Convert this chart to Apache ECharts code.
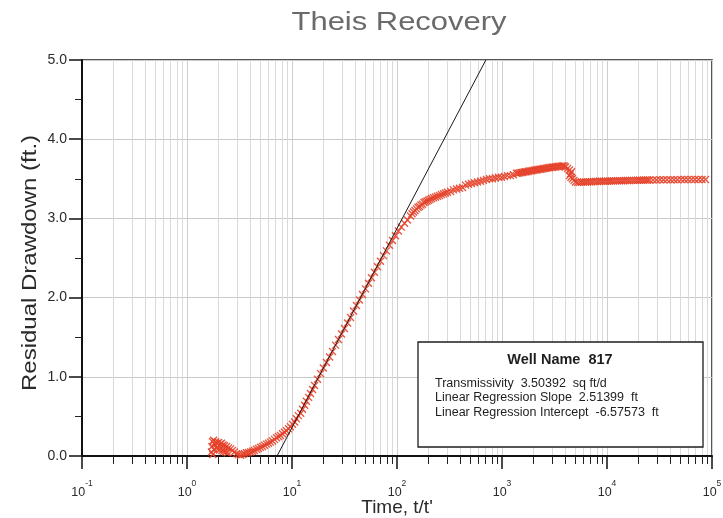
<!DOCTYPE html>
<html>
<head>
<meta charset="utf-8">
<title>Theis Recovery</title>
<script src="https://cdn.jsdelivr.net/npm/echarts@6/dist/echarts.min.js"></script>
<style>
  html, body { margin: 0; padding: 0; background: #ffffff; }
  #main { width: 723px; height: 518px; }
</style>
</head>
<body>
<div id="main"></div>
<script>
// Recovery record: time ratio t/t' and residual drawdown (ft)
const timeRatio = [
  // early recovery hump
  1.71, 1.73, 1.75, 1.79, 1.83, 1.87, 1.93, 2.00, 2.06, 2.13, 2.20, 2.27, 2.38, 2.48, 2.60, 2.71, 2.83, 2.96, 3.09, 3.23,
  1.76, 1.81, 1.90, 1.97, 2.04, 2.16, 2.24, 2.33, 2.43,
  // rising limb
  3.38, 3.53, 3.69, 3.85, 4.03, 4.21, 4.39, 4.59, 4.80, 5.01, 5.24, 5.47, 5.72, 5.97, 6.24, 6.52, 6.81, 7.12, 7.44, 7.77,
  8.12, 8.48, 8.86, 9.26, 9.67, 10.1, 10.6, 11.0, 11.5, 12.1, 12.6, 13.2, 13.7, 14.4, 15.0, 15.7, 16.4,
  // straight-line portion
  17.5, 18.7, 19.9, 21.3, 22.8, 24.3, 26.0, 27.7, 29.6, 31.6, 33.8, 36.1, 38.5, 41.1, 43.9, 46.9, 50.1, 53.5, 57.1, 61.0,
  65.2, 69.6, 74.3, 79.4, 84.8, 90.6, 96.8, 103, 110, 118, 126,
  // bend toward static level
  134.5, 139, 143.6, 148.4, 153.4, 158.5, 163.8, 169.3, 175.0, 180.8, 186.8, 193.1, 199.5, 206.2, 213.1, 222.6, 232.6, 243.0,
  254.0, 265.4, 277.3, 289.7, 302.7,
  324, 345, 369, 394, 421, 449, 480, 512, 547, 584, 624, 666, 711, 760, 811, 866, 925, 988, 1055, 1126, 1203, 1284,
  // late plateau
  1374, 1420, 1469, 1518, 1568, 1622, 1675, 1730, 1788, 1849, 1910, 1973, 2042, 2109, 2178, 2250, 2328, 2404, 2483, 2570,
  2655, 2742, 2831, 2931, 3027, 3126, 3236, 3342, 3451, 3565, 3690, 3811, 3936,
  // step down
  4024, 4207, 4395, 4592, 4490, 4395, 4540, 4690, 4852, 5012,
  // final level
  5236, 5470, 5715, 5972, 6240, 6519, 6811, 7117, 7435, 7769, 8118, 8482, 8862, 9259, 9674, 10107, 10561, 11034, 11529,
  12045, 12585, 13149, 13738, 14354, 14997, 15669, 16371, 17105, 17871, 18672, 19509, 20383, 21297, 22251, 23248, 24290, 25379,
  27435, 29590, 31988, 34505, 37218, 40273, 43440, 46856, 50695, 54681, 58982, 63816, 68830, 74269, 80300, 86696
];

const residualDrawdown = [
  0.05, 0.12, 0.18, 0.20, 0.15, 0.18, 0.16, 0.17, 0.15, 0.16, 0.14, 0.13, 0.12, 0.10, 0.09, 0.07, 0.05, 0.03, 0.02, 0.01,
  0.02, 0.08, 0.10, 0.09, 0.08, 0.07, 0.06, 0.05, 0.04,
  0.02, 0.03, 0.04, 0.045, 0.05, 0.06, 0.07, 0.085, 0.095, 0.11, 0.12, 0.135, 0.15, 0.16, 0.175, 0.19, 0.21, 0.23, 0.245, 0.26,
  0.28, 0.30, 0.32, 0.345, 0.37, 0.40, 0.43, 0.47, 0.51, 0.54, 0.59, 0.64, 0.69, 0.74, 0.79, 0.84, 0.89,
  0.97, 1.04, 1.11, 1.18, 1.25, 1.32, 1.40, 1.47, 1.54, 1.61, 1.68, 1.75, 1.83, 1.90, 1.97, 2.04, 2.11, 2.18, 2.25, 2.32,
  2.39, 2.46, 2.53, 2.59, 2.66, 2.72, 2.78, 2.84, 2.89, 2.94, 2.98,
  3.03, 3.06, 3.08, 3.10, 3.12, 3.14, 3.15, 3.17, 3.18, 3.20, 3.21, 3.22, 3.23, 3.24, 3.25, 3.26, 3.27, 3.28,
  3.29, 3.30, 3.31, 3.32, 3.33,
  3.34, 3.36, 3.37, 3.38, 3.39, 3.42, 3.43, 3.44, 3.45, 3.46, 3.47, 3.48, 3.49, 3.50, 3.50, 3.51, 3.52, 3.52, 3.53, 3.54, 3.54, 3.55,
  3.57, 3.57, 3.575, 3.58, 3.58, 3.585, 3.59, 3.59, 3.595, 3.60, 3.60, 3.605, 3.61, 3.61, 3.615, 3.62, 3.62, 3.625, 3.63, 3.63,
  3.635, 3.64, 3.64, 3.645, 3.645, 3.65, 3.65, 3.655, 3.655, 3.66, 3.66, 3.665, 3.66,
  3.65, 3.63, 3.61, 3.59, 3.565, 3.54, 3.52, 3.50, 3.48, 3.46,
  3.455, 3.455, 3.46, 3.46, 3.46, 3.46, 3.462, 3.462, 3.465, 3.465, 3.465, 3.468, 3.468, 3.47, 3.47, 3.47, 3.472, 3.472, 3.474,
  3.474, 3.475, 3.475, 3.476, 3.476, 3.478, 3.478, 3.479, 3.48, 3.48, 3.48, 3.481, 3.482, 3.482, 3.483, 3.484, 3.484, 3.485,
  3.485, 3.486, 3.487, 3.487, 3.488, 3.488, 3.489, 3.489, 3.49, 3.49, 3.49, 3.49, 3.49, 3.49, 3.49, 3.49
];

// Straight-line fit through the middle-time data (ft per log cycle)
const regressionSlope = 2.51399;
const regressionZeroTime = 7.2;   // t/t' where the fitted line reaches zero drawdown

const yTickValues = [0, 1, 2, 3, 4, 5];
const xDecades = [0.1, 1, 10, 100, 1000, 10000, 100000];

const chartTitle = 'Theis Recovery';
const yAxisTitle = 'Residual Drawdown (ft.)';
const xAxisTitle = "Time, t/t'";
const wellInfoTitle = 'Well Name  817';
const wellInfoLines = [
  'Transmissivity  3.50392  sq ft/d',
  'Linear Regression Slope  2.51399  ft',
  'Linear Regression Intercept  -6.57573  ft'
];

const FONT = '"Liberation Sans", Arial, Helvetica, sans-serif';

const points = timeRatio.map((t, i) => [t, residualDrawdown[i]]);
const yTop = yTickValues[yTickValues.length - 1];
const fitLine = [
  [regressionZeroTime, 0],
  [regressionZeroTime * Math.pow(10, yTop / regressionSlope), yTop]
];

const chart = echarts.init(document.getElementById('main'), null, { renderer: 'canvas' });

chart.setOption({
  backgroundColor: '#ffffff',
  animation: false,
  grid: {
    left: 82, right: 11, top: 60, bottom: 62,
    outerBoundsMode: 'none',
    containLabel: false,
    show: true,
    borderColor: '#1e1e1e',
    borderWidth: 1.5,
    backgroundColor: 'transparent'
  },
  xAxis: {
    type: 'log',
    logBase: 10,
    min: xDecades[0],
    max: xDecades[xDecades.length - 1],
    name: xAxisTitle,
    nameLocation: 'middle',
    nameGap: 42,
    nameMoveOverlap: false,
    nameTextStyle: { fontFamily: FONT, fontSize: 19, color: '#2a2a2a' },
    axisLine: { show: true, onZero: false, lineStyle: { color: '#111', width: 2 } },
    axisTick: { show: true, inside: false, length: 13, lineStyle: { color: '#111', width: 1.5 } },
    minorTick: { show: true, splitNumber: 9, length: 8, lineStyle: { color: '#222', width: 1 } },
    splitLine: { show: true, lineStyle: { color: '#cfcfcf', width: 1 } },
    minorSplitLine: { show: true, lineStyle: { color: '#dadada', width: 1 } },
    axisLabel: {
      margin: 23,
      formatter: function (v) {
        const p = Math.round(Math.log10(v));
        return '{b|10}{e|' + p + '}';
      },
      rich: {
        b: { fontFamily: FONT, fontSize: 12.5, color: '#2a2a2a', lineHeight: 20, verticalAlign: 'bottom' },
        e: { fontFamily: FONT, fontSize: 8.5, color: '#2a2a2a', lineHeight: 8, verticalAlign: 'top' }
      }
    }
  },
  yAxis: {
    type: 'value',
    min: yTickValues[0],
    max: yTop,
    interval: 1,
    axisLine: { show: true, lineStyle: { color: '#111', width: 2 } },
    axisTick: { show: true, inside: false, length: 13, lineStyle: { color: '#111', width: 1.5 } },
    minorTick: { show: true, splitNumber: 2, length: 7, lineStyle: { color: '#222', width: 1 } },
    splitLine: { show: true, lineStyle: { color: '#c9c9c9', width: 1 } },
    axisLabel: {
      margin: 15,
      fontFamily: FONT,
      fontSize: 14,
      color: '#2a2a2a',
      formatter: v => v.toFixed(1)
    }
  },
  series: [
    {
      name: 'Residual drawdown',
      type: 'scatter',
      data: points,
      symbol: 'path://M0,0L10,10M10,0L0,10',
      symbolSize: 7,
      itemStyle: {
        color: 'rgba(0,0,0,0)',
        borderColor: '#e5412a',
        borderWidth: 1.35,
        opacity: 0.9
      },
      z: 2
    },
    {
      name: 'Linear regression',
      type: 'line',
      data: fitLine,
      showSymbol: false,
      symbol: 'none',
      clip: true,
      lineStyle: { color: '#1a1a1a', width: 1 },
      z: 3
    }
  ],
  graphic: [
    {
      type: 'text',
      x: 399, y: 10,
      scaleX: 1.19,
      style: {
        text: chartTitle,
        font: 'normal 26px ' + FONT,
        fill: '#6a6a6a',
        textAlign: 'center',
        textVerticalAlign: 'top'
      }
    },
    {
      // vertical axis title, set in a wide face
      type: 'text',
      x: 30, y: 263,
      rotation: Math.PI / 2,
      scaleX: 1.2,
      style: {
        text: yAxisTitle,
        font: 'normal 20px ' + FONT,
        fill: '#2a2a2a',
        textAlign: 'center',
        textVerticalAlign: 'middle'
      }
    },
    {
      type: 'rect',
      shape: { x: 418, y: 342, width: 285, height: 105 },
      style: { fill: '#ffffff', stroke: '#1e1e1e', lineWidth: 1.3 },
      z: 10
    },
    {
      type: 'text',
      x: 560, y: 360,
      z: 11,
      style: {
        text: wellInfoTitle,
        font: 'bold 14.5px ' + FONT,
        fill: '#1e1e1e',
        textAlign: 'center',
        textVerticalAlign: 'middle'
      }
    },
    ...wellInfoLines.map((line, i) => ({
      type: 'text',
      x: 435, y: 383.5 + i * 14.5,
      z: 11,
      style: {
        text: line,
        font: 'normal 12.5px ' + FONT,
        fill: '#1e1e1e',
        textAlign: 'left',
        textVerticalAlign: 'middle'
      }
    }))
  ]
});
</script>
</body>
</html>
